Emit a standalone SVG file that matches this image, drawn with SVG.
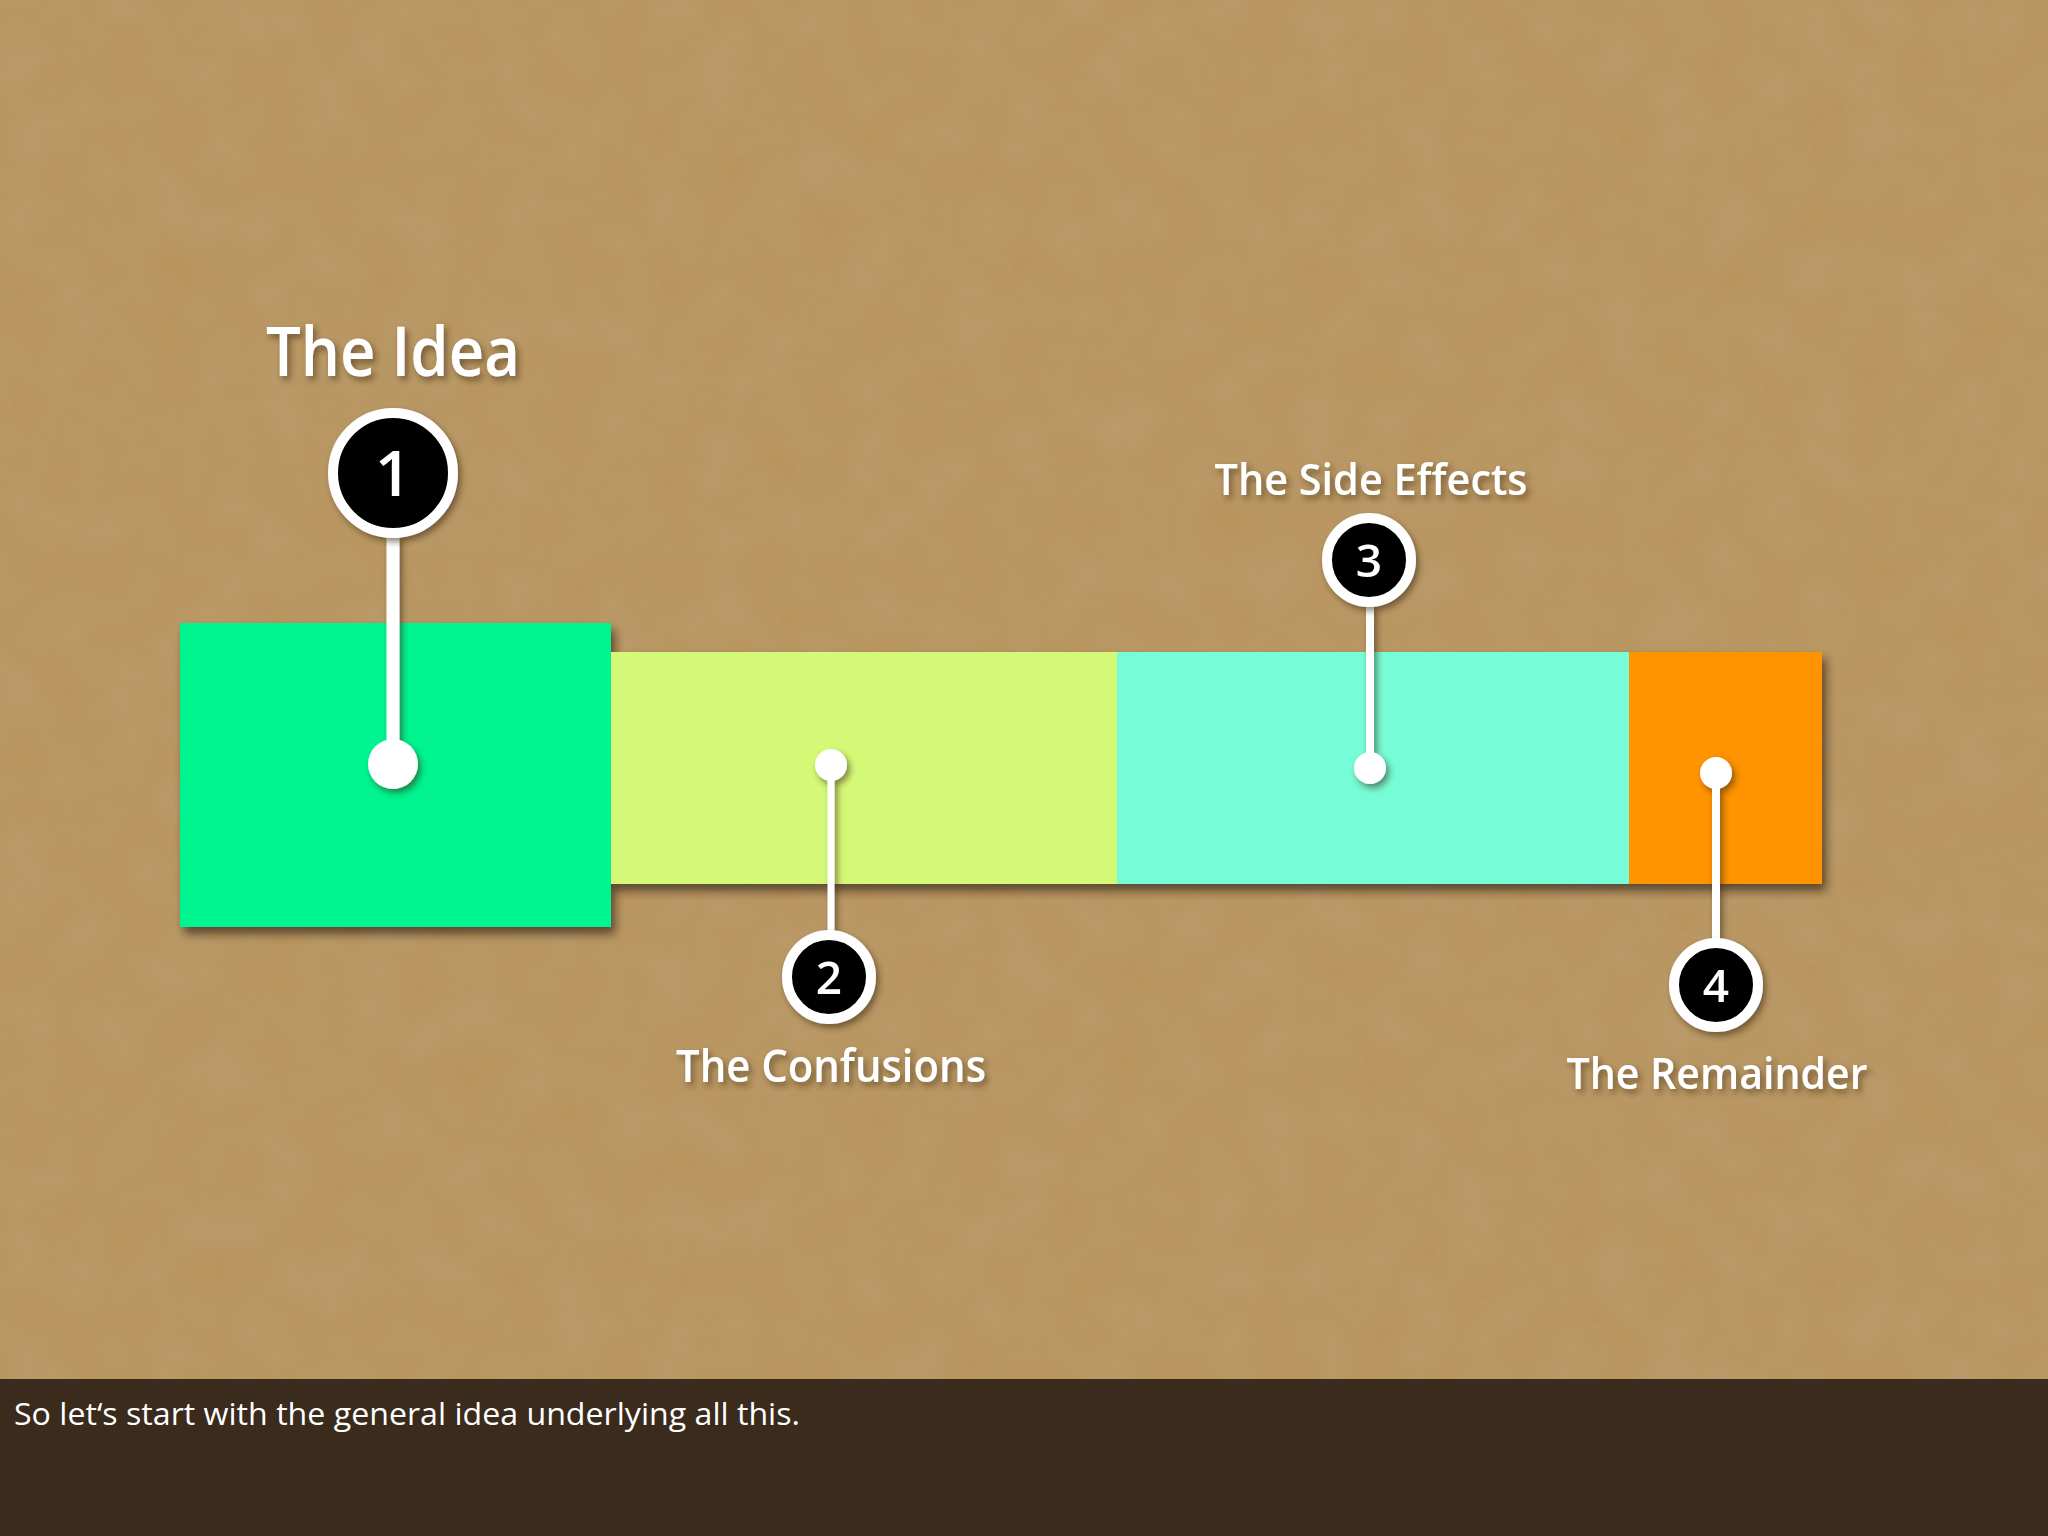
<svg xmlns="http://www.w3.org/2000/svg" width="2048" height="1536" viewBox="0 0 2048 1536">
<defs>
<filter id="paper" x="0" y="0" width="100%" height="100%">
<feTurbulence type="fractalNoise" baseFrequency="0.02" numOctaves="5" seed="3" result="n"/>
<feColorMatrix in="n" type="matrix" values="0 0 0 0 0.55  0 0 0 0 0.42  0 0 0 0 0.26  0 0 0 0.25 -0.04" result="c"/>
<feComposite in="c" in2="SourceGraphic" operator="over"/>
</filter>
<filter id="shadow" x="-10%" y="-10%" width="130%" height="130%">
<feDropShadow dx="4" dy="7" stdDeviation="5" flood-color="#2a1a08" flood-opacity="0.65"/>
</filter>
<filter id="tshadow" x="-10%" y="-30%" width="130%" height="160%">
<feDropShadow dx="3" dy="4" stdDeviation="3" flood-color="#3a2610" flood-opacity="0.55"/>
</filter>
<style>
.lbl{font-family:"Open Sans","Lato","Liberation Sans",sans-serif;font-weight:600;fill:#ffffff;text-anchor:middle}
.num{font-family:"Open Sans","Lato","Liberation Sans",sans-serif;font-weight:600;fill:#ffffff;text-anchor:middle}
.ring{fill:#000000;stroke:#ffffff;stroke-width:10}
.dot{fill:#ffffff}
.stem{stroke:#ffffff;stroke-linecap:butt}
.cap{font-family:"Open Sans","Lato","Liberation Sans",sans-serif;font-weight:400;fill:#ffffff}
</style>
</defs>
<rect x="0" y="0" width="2048" height="1380" fill="#b8955f" filter="url(#paper)"/>
<rect x="0" y="1379" width="2048" height="157" fill="#3a2b1d"/>

<g id="bars" filter="url(#shadow)">
<rect id="bar-confusions" x="611" y="652" width="506" height="232" fill="#d4f977"/>
<rect id="bar-sideeffects" x="1117" y="652" width="512" height="232" fill="#76fcd6"/>
<rect id="bar-remainder" x="1629" y="652" width="193" height="232" fill="#ff9300"/>
<rect id="bar-idea" x="180" y="623" width="431" height="304" fill="#00f590"/>
</g>

<g id="connectors" filter="url(#tshadow)">
<line class="stem" x1="393" y1="535" x2="393" y2="760" stroke-width="13"/>
<circle class="dot" cx="393" cy="764" r="25"/>
<line class="stem" x1="831" y1="768" x2="831" y2="933" stroke-width="7"/>
<circle class="dot" cx="831" cy="765" r="16"/>
<line class="stem" x1="1370" y1="604" x2="1370" y2="766" stroke-width="8"/>
<circle class="dot" cx="1370" cy="768" r="16"/>
<line class="stem" x1="1716" y1="775" x2="1716" y2="941" stroke-width="8"/>
<circle class="dot" cx="1716" cy="773" r="16"/>
</g>

<g id="node-1" filter="url(#tshadow)">
<text class="lbl" x="393" y="376" font-size="68" textLength="254" lengthAdjust="spacingAndGlyphs">The Idea</text>
<circle class="ring" cx="393" cy="473" r="60" stroke-width="11"/>
<text class="num" x="393" y="496" font-size="64">1</text>
</g>

<g id="node-2" filter="url(#tshadow)">
<circle class="ring" cx="829" cy="977" r="42"/>
<text class="num" x="829" y="994" font-size="46">2</text>
<text class="lbl" x="831" y="1082" font-size="45" textLength="310" lengthAdjust="spacingAndGlyphs">The Confusions</text>
</g>

<g id="node-3" filter="url(#tshadow)">
<text class="lbl" x="1371" y="495" font-size="43" textLength="313" lengthAdjust="spacingAndGlyphs">The Side Effects</text>
<circle class="ring" cx="1369" cy="560" r="42"/>
<text class="num" x="1369" y="577" font-size="46">3</text>
</g>

<g id="node-4" filter="url(#tshadow)">
<circle class="ring" cx="1716" cy="985" r="42"/>
<text class="num" x="1716" y="1002" font-size="46">4</text>
<text class="lbl" x="1717" y="1089" font-size="44" textLength="301" lengthAdjust="spacingAndGlyphs">The Remainder</text>
</g>

<text class="cap" x="14" y="1425" font-size="31" textLength="786" lengthAdjust="spacingAndGlyphs">So let‘s start with the general idea underlying all this.</text>
</svg>
